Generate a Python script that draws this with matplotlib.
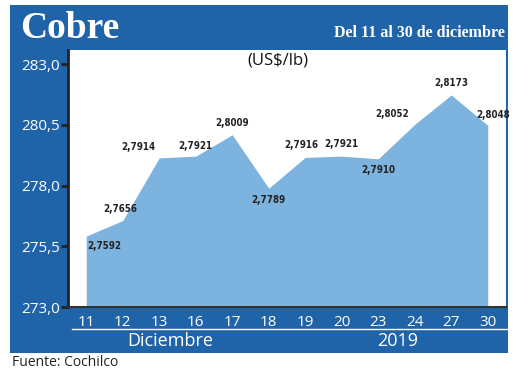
import matplotlib
matplotlib.use("Agg")
import matplotlib.pyplot as plt
from matplotlib.patches import Rectangle
from matplotlib.lines import Line2D

days = ["11", "12", "13", "16", "17", "18", "19", "20", "23", "24", "27", "30"]
prices = [2.7592, 2.7656, 2.7914, 2.7921, 2.8009, 2.7789,
          2.7916, 2.7921, 2.7910, 2.8052, 2.8173, 2.8048]
yticks = [273.0, 275.5, 278.0, 280.5, 283.0]

# label placement per point: (dx, dy) in points, horizontal alignment
label_pos = [(1, -11, "left"), (-2, 5, "center"), (-3, 4, "right"), (0, 4, "center"),
             (0, 5, "center"), (0, -12, "center"), (-3, 5, "center"), (0, 5, "center"),
             (0, -12, "center"), (-4, 4, "right"), (0, 5, "center"), (4, 4, "center")]

BLUE = "#1f63a9"
FILL = "#7cb3df"
W, H = 520, 375

fig = plt.figure(figsize=(5.2, 3.75), dpi=100)
fig.patch.set_facecolor("white")
fig.add_artist(Rectangle((10 / W, 1 - 353 / H), 498 / W, 348 / H,
                         transform=fig.transFigure, facecolor=BLUE, edgecolor="none", zorder=0))

ax = fig.add_axes([68 / W, 1 - 307 / H, (506 - 68) / W, (307 - 50) / H])
ax.set_facecolor("white")
x = list(range(len(days)))
y = [p * 100 for p in prices]
ax.fill_between(x, 273.0, y, color=FILL, linewidth=0, zorder=2)

for xi, yi, p, (dx, dy, ha) in zip(x, y, prices, label_pos):
    ax.annotate(f"{p:.4f}".replace(".", ","), (xi, yi), xytext=(dx, dy),
                textcoords="offset points", ha=ha, va="bottom",
                fontsize=7, family="DejaVu Sans", fontstretch="condensed",
                weight="bold", color="#222222", zorder=3)

ax.set_xlim(-0.5, 11.5)
# white panel reaches a little above the 283,0 tick
ax.set_ylim(273.0, 283.58)
ax.set_yticks(yticks)
ax.set_yticklabels([f"{v:.1f}".replace(".", ",") for v in yticks],
                   color="white", fontsize=11, family="Open Sans")
ax.set_xticks(x)
ax.set_xticklabels(days, color="white", fontsize=11, family="Open Sans")
ax.tick_params(axis="y", length=5, width=2, color="#222222", pad=1)
ax.tick_params(axis="x", length=0, pad=6)
for s in ["top", "right"]:
    ax.spines[s].set_visible(False)
ax.spines["left"].set_color("#222222")
ax.spines["left"].set_linewidth(2)
ax.spines["bottom"].set_color("#333333")
ax.spines["bottom"].set_linewidth(1.5)

ax.text(0.48, 0.99, "(US$/lb)", transform=ax.transAxes, ha="center", va="top",
        fontsize=12, family="Open Sans", color="#111111")

fig.add_artist(Line2D([72 / W, 507 / W], [1 - 329 / H, 1 - 329 / H],
                      transform=fig.transFigure, color="white", linewidth=1))
fig.text(170 / W, 1 - 341 / H, "Diciembre", ha="center", va="center",
         fontsize=13, family="Open Sans", color="white")
fig.text(398 / W, 1 - 341 / H, "2019", ha="center", va="center",
         fontsize=13, family="Open Sans", color="white")

fig.text(20 / W, 1 - 28 / H, "Cobre", ha="left", va="center",
         fontsize=27, family="Liberation Serif", weight="bold", color="white")
fig.text(505 / W, 1 - 33 / H, "Del 11 al 30 de diciembre", ha="right", va="center",
         fontsize=11.5, family="Liberation Serif", weight="bold", color="white")

fig.text(12 / W, 1 - 363 / H, "Fuente: Cochilco", ha="left", va="center",
         fontsize=10, family="Open Sans", color="#222222")

fig.savefig("out.png", dpi=100)
